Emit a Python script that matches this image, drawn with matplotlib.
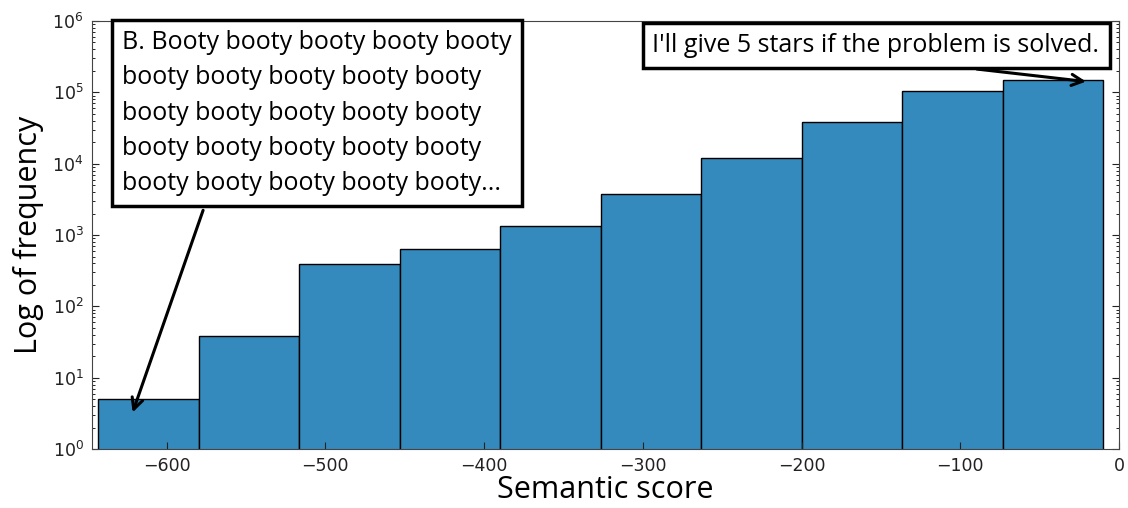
import numpy as np
import matplotlib
matplotlib.use('Agg')
import matplotlib.pyplot as plt

# histogram bins (semantic score) and counts per bin
bin_lo, bin_hi, n_bins = -643, -10, 10
counts = [5, 39, 390, 640, 1350, 3800, 12000, 39000, 105000, 150000]

note_left = ("B. Booty booty booty booty booty\n"
             "booty booty booty booty booty\n"
             "booty booty booty booty booty\n"
             "booty booty booty booty booty\n"
             "booty booty booty booty booty...")
note_right = "I'll give 5 stars if the problem is solved."

edges = np.linspace(bin_lo, bin_hi, n_bins + 1)

fig = plt.figure(figsize=(11.28, 5.08), dpi=100)
ax = fig.add_axes([0.0816, 0.116, 0.9104, 0.8427])

ax.bar(edges[:-1], counts, width=np.diff(edges), align='edge',
       color='#348ABD', edgecolor='black', linewidth=1.0)
ax.set_yscale('log')
ax.set_ylim(1, 1e6)
ax.set_xlim(-647, 0)
ax.set_xticks([-600, -500, -400, -300, -200, -100, 0])

ax.tick_params(direction='in', top=True, right=True, labelsize=12.5,
               colors='#222222', length=5, pad=6)
ax.tick_params(which='minor', direction='in', top=True, right=True, length=2.5)
for s in ax.spines.values():
    s.set_color('#444444')

ax.set_xlabel('Semantic score', fontsize=22, family='Open Sans', labelpad=0)
ax.set_ylabel('Log of frequency', fontsize=22, family='Open Sans', labelpad=6)

box = dict(boxstyle='square,pad=0.4', fc='white', ec='black', lw=2.5)
arrow = dict(arrowstyle='->', lw=2.2, color='black', mutation_scale=20)

ax.annotate(note_left, xy=(-622, 3.0), xycoords='data',
            xytext=(317, 395), textcoords='figure pixels',
            ha='center', va='center', multialignment='left',
            fontsize=18, family='Open Sans', linespacing=1.55, bbox=box,
            arrowprops=dict(arrow, relpos=(0.22, 0.0)))
ax.annotate(note_right, xy=(-19, 1.4e5), xycoords='data',
            xytext=(876, 463), textcoords='figure pixels',
            ha='center', va='center',
            fontsize=18, family='Open Sans', bbox=box,
            arrowprops=dict(arrow, relpos=(0.5, 0.0)))

fig.savefig('out.png', dpi=100)
